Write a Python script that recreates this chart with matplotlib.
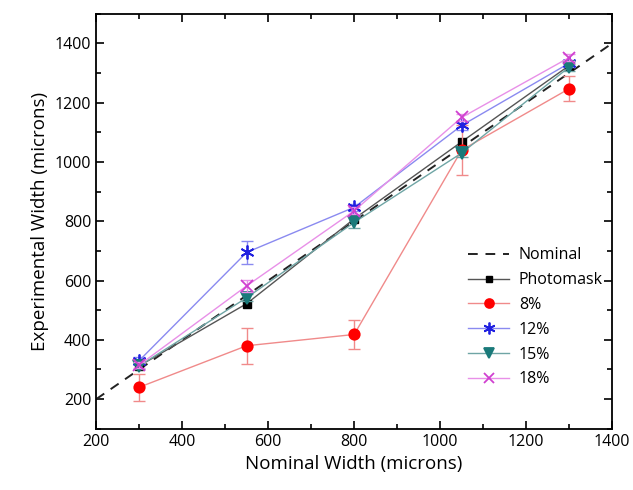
import matplotlib.pyplot as plt
from matplotlib.ticker import MultipleLocator

plt.rcParams['font.family'] = ['Open Sans', 'DejaVu Sans']

nominal = [300, 550, 800, 1050, 1300]
photomask = [312, 522, 808, 1068, 1325]
pct8 = [240, 380, 418, 1040, 1247]
pct8_err = [45, 60, 50, 85, 42]
pct12 = [330, 695, 847, 1123, 1333]
pct12_err = [12, 40, 12, 15, 12]
pct15 = [312, 542, 796, 1030, 1320]
pct15_err = [10, 12, 20, 15, 12]
pct18 = [315, 582, 835, 1150, 1352]
pct18_err = [10, 20, 12, 12, 12]
diag = [200, 1400]

fig = plt.figure(figsize=(6.33, 4.9), dpi=100)
ax = fig.add_axes([0.152, 0.125, 0.815, 0.847])

ax.plot(diag, diag, '--', color='#222222', lw=1.4, dashes=(5, 4), label='Nominal')
ax.plot(nominal, photomask, '-s', color='#555555', mfc='black', mec='black', ms=5.5, lw=1, label='Photomask')

series = [
    (pct8, pct8_err, 'o', '#f08a8a', 'red', 7.5, '8%'),
    (pct12, pct12_err, (6, 2, 0), '#8a8af0', '#2020e0', 10, '12%'),
    (pct15, pct15_err, 'v', '#6fa5a5', '#1a7a7a', 8, '15%'),
    (pct18, pct18_err, 'x', '#e890e8', '#d040d0', 9, '18%'),
]
for vals, err, mk, lc, mc, ms, lab in series:
    ax.errorbar(nominal, vals, yerr=err, fmt='none', ecolor=lc, elinewidth=1, capsize=4)
    ax.plot(nominal, vals, '-', marker=mk, color=lc, mfc=mc, mec=mc, ms=ms, mew=1.3, lw=1, label=lab)

ax.set_xlim(200, 1400)
ax.set_ylim(100, 1500)
ax.xaxis.set_major_locator(MultipleLocator(200))
ax.xaxis.set_minor_locator(MultipleLocator(100))
ax.yaxis.set_major_locator(MultipleLocator(200))
ax.yaxis.set_minor_locator(MultipleLocator(100))
ax.set_yticks(range(200, 1401, 200))
ax.tick_params(which='both', direction='in', top=True, right=True, labelsize=11.5)
ax.tick_params(which='major', length=6, width=1.2)
ax.tick_params(which='minor', length=3.5, width=1.2)
for s in ax.spines.values():
    s.set_linewidth(1.3)

ax.set_xlabel('Nominal Width (microns)', fontsize=13.5)
ax.set_ylabel('Experimental Width (microns)', fontsize=13.5)

ax.legend(loc='lower right', bbox_to_anchor=(1.01, 0.065), frameon=False, fontsize=11.5,
          handlelength=2.6, labelspacing=0.55, handletextpad=0.6, markerscale=0.85)

fig.savefig('out.png', dpi=100)
